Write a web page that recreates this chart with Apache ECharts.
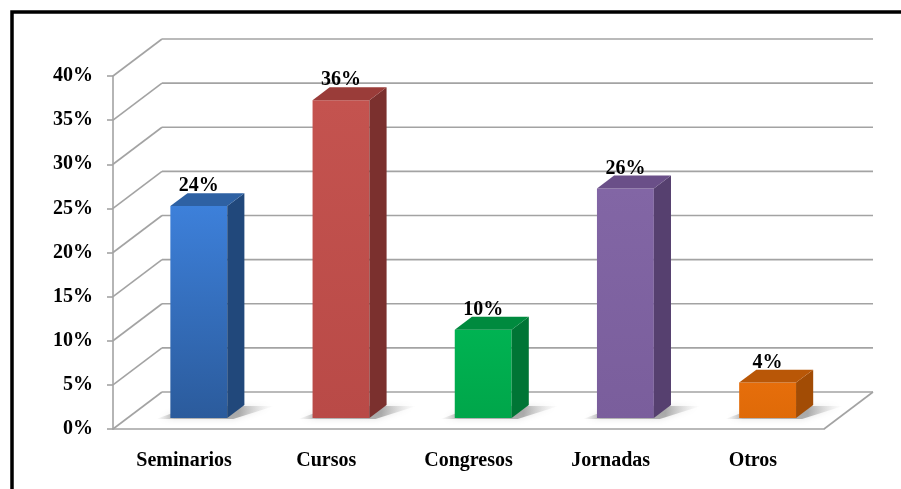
<!DOCTYPE html>
<html>
<head>
<meta charset="utf-8">
<script src="https://cdn.jsdelivr.net/npm/echarts@6/dist/echarts.min.js"></script>
<style>
  html, body { margin:0; padding:0; background:#fff; }
  #main { width:901px; height:489px; }
</style>
</head>
<body>
<div id="main"></div>
<script>
// data
var categories = ['Seminarios', 'Cursos', 'Congresos', 'Jornadas', 'Otros'];
var values = [24, 36, 10, 26, 4];
var yTicks = [0, 5, 10, 15, 20, 25, 30, 35, 40];

// face colours per bar: [front top, front bottom, side, top]
var faceColors = [
  ['#3d80da', '#2b5b9c', '#21487b', '#2e61a3'],
  ['#c4534f', '#b94a47', '#7b302e', '#9a3c39'],
  ['#00b352', '#00a64a', '#007535', '#008a3e'],
  ['#8266a5', '#7a5e9c', '#56406f', '#6a4f88'],
  ['#e66e0b', '#df6a08', '#a24c05', '#b95707']
];

var DX = 49, DY = -37;      // full depth of the floor, in pixels
var Z0 = 0.3, Z1 = 0.65;    // bar depth range
var LABEL_FONT = 'bold 20px "Liberation Serif", serif';

var chart = echarts.init(document.getElementById('main'));

function wallItem(params, api) {
  var cs = params.coordSys;
  var v = api.value(0);
  var y = api.coord([0, v])[1];
  var x0 = cs.x, x1 = cs.x + cs.width;
  var st = { stroke: '#a3a3a3', lineWidth: 1.6 };
  var kids = [
    { type: 'line', shape: { x1: x0, y1: y, x2: x0 + DX, y2: y + DY }, style: st },
    { type: 'line', shape: { x1: x0 + DX, y1: y + DY, x2: x1 + DX, y2: y + DY }, style: st }
  ];
  if (v === 0) {
    kids.push({ type: 'line', shape: { x1: x1, y1: y, x2: x1 + DX, y2: y + DY }, style: st });
  }
  return { type: 'group', children: kids };
}

function barItem(params, api) {
  var i = api.value(0);
  var v = api.value(1);
  var top = api.coord([i, v]);
  var base = api.coord([i, 0]);
  var bw = api.size([1, 0])[0] * 0.4;
  var c = faceColors[i];
  var fx = top[0] - bw / 2 + Z0 * DX;
  var fr = fx + bw;
  var fb = base[1] + Z0 * DY;
  var ft = top[1] + Z0 * DY;
  var ddx = (Z1 - Z0) * DX, ddy = (Z1 - Z0) * DY;
  var shadow = {
    type: 'polygon',
    shape: { points: [[fx - 14, fb + 1], [fr + 6, fb + 1], [fr + ddx + 30, fb + ddy + 1], [fx + ddx + 4, fb + ddy + 1]] },
    style: {
      fill: new echarts.graphic.LinearGradient(0, 0, 1, 0, [
        { offset: 0, color: 'rgba(150,150,150,0)' },
        { offset: 0.15, color: 'rgba(120,120,120,0.5)' },
        { offset: 0.7, color: 'rgba(120,120,120,0.55)' },
        { offset: 1, color: 'rgba(200,200,200,0)' }
      ]),
      shadowBlur: 6, shadowColor: 'rgba(120,120,120,0.4)'
    }
  };
  var front = {
    type: 'rect',
    shape: { x: fx, y: ft, width: bw, height: fb - ft },
    style: {
      fill: new echarts.graphic.LinearGradient(0, 0, 0, 1, [
        { offset: 0, color: c[0] }, { offset: 1, color: c[1] }
      ])
    }
  };
  var side = {
    type: 'polygon',
    shape: { points: [[fr, ft], [fr + ddx, ft + ddy], [fr + ddx, fb + ddy], [fr, fb]] },
    style: { fill: c[2] }
  };
  var cap = {
    type: 'polygon',
    shape: { points: [[fx, ft], [fr, ft], [fr + ddx, ft + ddy], [fx + ddx, ft + ddy]] },
    style: { fill: c[3] }
  };
  var label = {
    type: 'text',
    style: {
      text: v + '%', x: fx + bw / 2, y: ft - 20,
      font: LABEL_FONT, fill: '#000', align: 'center', verticalAlign: 'middle'
    }
  };
  return { type: 'group', children: [shadow, front, side, cap, label] };
}

var option = {
  backgroundColor: '#fff',
  animation: false,
  grid: { left: 113, right: 77, top: 76, bottom: 60 },
  xAxis: {
    type: 'category',
    data: categories,
    axisLine: { lineStyle: { color: '#a3a3a3', width: 1.6 } },
    axisTick: { length: 6, lineStyle: { color: '#a3a3a3', width: 1.6 } },
    axisLabel: { margin: 22, color: '#000', fontFamily: 'Liberation Serif', fontWeight: 'bold', fontSize: 20 }
  },
  yAxis: {
    type: 'value',
    min: 0, max: 40, interval: 5,
    axisLine: { show: true, lineStyle: { color: '#a3a3a3', width: 1.6 } },
    axisTick: { show: true, length: 6, lineStyle: { color: '#a3a3a3', width: 1.6 } },
    splitLine: { show: false },
    axisLabel: { margin: 20, formatter: '{value}%', color: '#000', fontFamily: 'Liberation Serif', fontWeight: 'bold', fontSize: 20 }
  },
  graphic: [{
    type: 'rect',
    shape: { x: 12, y: 12, width: 1000, height: 1000 },
    style: { fill: 'none', stroke: '#000', lineWidth: 3.5 },
    silent: true
  }],
  series: [
    {
      type: 'custom',
      z: 1,
      renderItem: wallItem,
      data: yTicks.map(function (t) { return [t]; }),
      silent: true
    },
    {
      type: 'custom',
      z: 3,
      renderItem: barItem,
      data: values.map(function (v, i) { return [i, v]; }),
      silent: true
    }
  ]
};
chart.setOption(option);
</script>
</body>
</html>
